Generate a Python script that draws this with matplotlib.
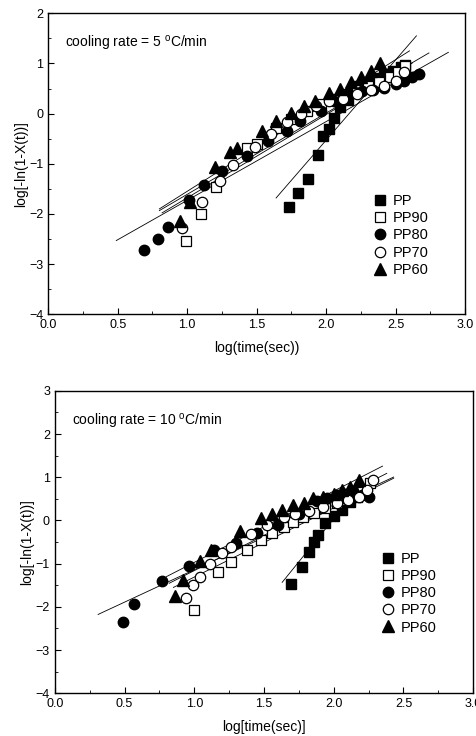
import numpy as np
import matplotlib
matplotlib.use('Agg')
import matplotlib.pyplot as plt
from matplotlib.ticker import MultipleLocator

plt.rcParams['font.family'] = ['Liberation Sans', 'DejaVu Sans']
plt.rcParams['mathtext.fontset'] = 'custom'
plt.rcParams['mathtext.rm'] = 'Liberation Sans'
plt.rcParams['mathtext.default'] = 'regular'

labels = ['PP', 'PP90', 'PP80', 'PP70', 'PP60']

# cooling rate = 5 C/min
t5_x = {
    'PP':   [1.73, 1.80, 1.87, 1.94, 1.98, 2.02, 2.06, 2.10, 2.16, 2.24, 2.30, 2.36, 2.42, 2.48, 2.54, 2.57],
    'PP90': [0.99, 1.10, 1.21, 1.43, 1.50, 1.64, 1.75, 1.86, 1.96, 2.05, 2.14, 2.22, 2.30, 2.38, 2.46, 2.52, 2.57],
    'PP80': [0.69, 0.79, 0.86, 1.01, 1.12, 1.25, 1.43, 1.58, 1.72, 1.81, 1.96, 2.06, 2.16, 2.26, 2.34, 2.42, 2.50, 2.56, 2.62, 2.67],
    'PP70': [0.96, 1.11, 1.24, 1.33, 1.49, 1.60, 1.72, 1.82, 1.93, 2.02, 2.12, 2.22, 2.32, 2.42, 2.50, 2.56],
    'PP60': [0.95, 1.02, 1.20, 1.31, 1.36, 1.54, 1.64, 1.75, 1.84, 1.92, 2.02, 2.10, 2.18, 2.25, 2.32, 2.39],
}
t5_y = {
    'PP':   [-1.86, -1.58, -1.30, -0.82, -0.44, -0.30, -0.09, 0.13, 0.28, 0.55, 0.62, 0.70, 0.78, 0.85, 0.92, 0.97],
    'PP90': [-2.53, -2.00, -1.47, -0.68, -0.60, -0.29, -0.10, 0.06, 0.20, 0.30, 0.40, 0.48, 0.55, 0.63, 0.72, 0.82, 0.95],
    'PP80': [-2.72, -2.50, -2.26, -1.73, -1.43, -1.15, -0.84, -0.54, -0.34, -0.14, 0.06, 0.25, 0.40, 0.45, 0.48, 0.52, 0.58, 0.65, 0.72, 0.78],
    'PP70': [-2.29, -1.76, -1.35, -1.03, -0.67, -0.40, -0.16, 0.00, 0.16, 0.25, 0.30, 0.40, 0.48, 0.55, 0.65, 0.82],
    'PP60': [-2.14, -1.77, -1.07, -0.77, -0.69, -0.35, -0.14, 0.01, 0.15, 0.26, 0.42, 0.49, 0.62, 0.72, 0.85, 1.00],
}
# Avrami fit lines: slope n, intercept log k, x range
t5_n = {'PP': 3.20, 'PP90': 1.66, 'PP80': 1.57, 'PP70': 1.62, 'PP60': 1.75}
t5_k = {'PP': -6.93, 'PP90': -3.34, 'PP80': -3.30, 'PP70': -3.23, 'PP60': -3.30}
t5_rng = {'PP': (1.64, 2.65), 'PP90': (0.82, 2.62), 'PP80': (0.49, 2.88),
          'PP70': (0.80, 2.74), 'PP60': (0.80, 2.60)}

# cooling rate = 10 C/min
t10_x = {
    'PP':   [1.69, 1.77, 1.82, 1.86, 1.89, 1.94, 2.00, 2.06, 2.12, 2.17, 2.22],
    'PP90': [1.00, 1.17, 1.26, 1.38, 1.48, 1.56, 1.64, 1.71, 1.78, 1.86, 1.94, 2.02, 2.10, 2.18, 2.26],
    'PP80': [0.49, 0.57, 0.77, 0.96, 1.14, 1.30, 1.45, 1.60, 1.75, 1.88, 1.95, 2.02, 2.08, 2.14, 2.20, 2.25],
    'PP70': [0.94, 0.99, 1.04, 1.11, 1.20, 1.26, 1.41, 1.52, 1.64, 1.72, 1.82, 1.92, 2.02, 2.10, 2.18, 2.24, 2.28],
    'PP60': [0.86, 0.92, 1.04, 1.12, 1.33, 1.48, 1.56, 1.63, 1.71, 1.79, 1.85, 1.92, 2.00, 2.06, 2.12, 2.18],
}
t10_y = {
    'PP':   [-1.48, -1.07, -0.72, -0.49, -0.34, -0.07, 0.11, 0.24, 0.42, 0.55, 0.72],
    'PP90': [-2.07, -1.19, -0.96, -0.69, -0.45, -0.30, -0.15, -0.03, 0.08, 0.18, 0.28, 0.40, 0.52, 0.66, 0.86],
    'PP80': [-2.36, -1.94, -1.40, -1.05, -0.69, -0.53, -0.30, -0.10, 0.15, 0.45, 0.52, 0.58, 0.62, 0.68, 0.60, 0.55],
    'PP70': [-1.79, -1.50, -1.30, -1.00, -0.76, -0.61, -0.32, -0.11, 0.08, 0.16, 0.22, 0.32, 0.40, 0.48, 0.55, 0.70, 0.93],
    'PP60': [-1.75, -1.38, -0.93, -0.69, -0.24, 0.05, 0.16, 0.24, 0.35, 0.41, 0.51, 0.55, 0.62, 0.70, 0.78, 0.93],
}
t10_n = {'PP': 3.98, 'PP90': 1.60, 'PP80': 1.50, 'PP70': 1.63, 'PP60': 1.65}
t10_k = {'PP': -7.92, 'PP90': -2.91, 'PP80': -2.64, 'PP70': -2.79, 'PP60': -2.62}
t10_rng = {'PP': (1.63, 2.08), 'PP90': (0.85, 2.43), 'PP80': (0.31, 2.43),
           'PP70': (0.82, 2.38), 'PP60': (0.80, 2.35)}

styles = {
    'PP':   dict(marker='s', mfc='black', mec='black', ms=6.5),
    'PP90': dict(marker='s', mfc='white', mec='black', ms=6.5, mew=0.9),
    'PP80': dict(marker='o', mfc='black', mec='black', ms=7.5),
    'PP70': dict(marker='o', mfc='white', mec='black', ms=7.5, mew=0.9),
    'PP60': dict(marker='^', mfc='black', mec='black', ms=8),
}

fig = plt.figure(figsize=(4.77, 7.36), dpi=100)
ax1 = fig.add_axes([0.101, 0.573, 0.874, 0.409])
ax2 = fig.add_axes([0.115, 0.058, 0.877, 0.411])


def draw(ax, xs, ys, ns, ks, rng, ylim, note, xlabel, leg_anchor):
    for lab in labels:
        x0, x1 = rng[lab]
        lx = np.array([x0, x1])
        ax.plot(lx, ks[lab] + ns[lab] * lx, color='black', lw=0.6, zorder=1)
    for lab in labels:
        ax.plot(xs[lab], ys[lab], ls='none', label=lab, zorder=3, **styles[lab])
    ax.set_xlim(0, 3.0)
    ax.set_ylim(*ylim)
    ax.xaxis.set_major_locator(MultipleLocator(0.5))
    ax.xaxis.set_minor_locator(MultipleLocator(0.25))
    ax.yaxis.set_major_locator(MultipleLocator(1))
    ax.yaxis.set_minor_locator(MultipleLocator(0.5))
    ax.xaxis.set_major_formatter(plt.FormatStrFormatter('%.1f'))
    ax.tick_params(which='both', direction='in', top=False, right=False, labelsize=9)
    ax.tick_params(which='major', length=4)
    ax.tick_params(which='minor', length=2)
    for s in ax.spines.values():
        s.set_linewidth(1.0)
    ax.text(0.04, 0.93, note, transform=ax.transAxes, fontsize=10, va='top')
    ax.set_xlabel(xlabel, fontsize=10, labelpad=7)
    ax.set_ylabel('log[-ln(1-X(t))]', fontsize=10, labelpad=1)
    ax.legend(loc='lower right', bbox_to_anchor=leg_anchor, frameon=False,
              fontsize=10.5, labelspacing=0.22, handletextpad=0.4,
              handlelength=1.0, borderpad=0)


draw(ax1, t5_x, t5_y, t5_n, t5_k, t5_rng, (-4, 2),
     r'cooling rate = 5 $^{o}$C/min', 'log(time(sec))', (0.93, 0.10))
draw(ax2, t10_x, t10_y, t10_n, t10_k, t10_rng, (-4, 3),
     r'cooling rate = 10 $^{o}$C/min', 'log[time(sec)]', (0.93, 0.17))

fig.savefig('out.png', dpi=100)
